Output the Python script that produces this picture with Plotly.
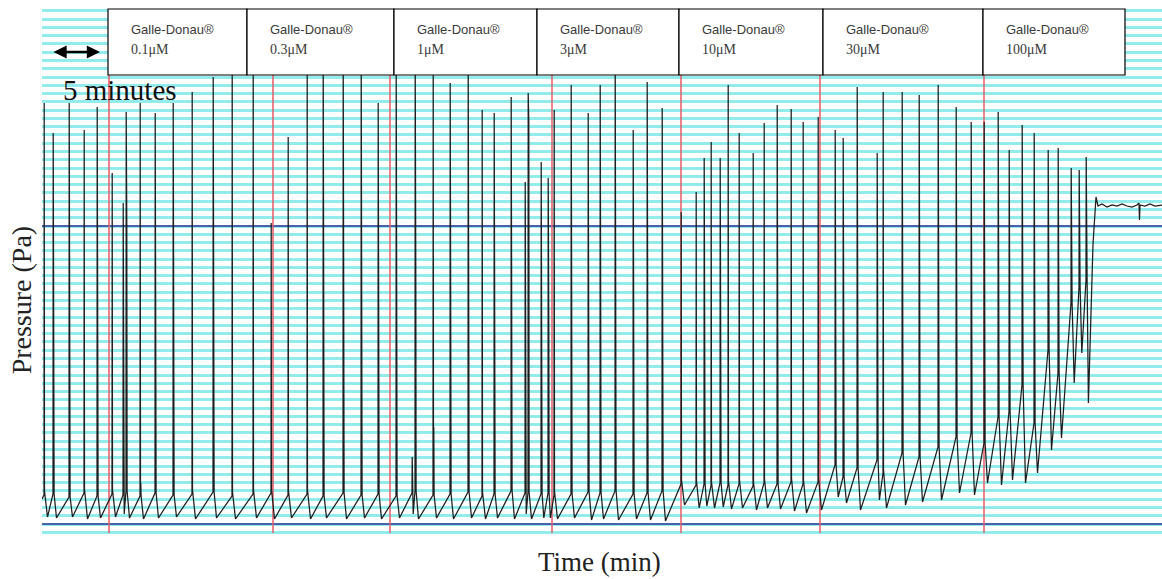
import plotly.graph_objects as go

# ---------------- data (time in minutes, pressure in arbitrary Pa units) ----------------
spike_t = [0.2, 1.1, 2.7, 4.2, 5.5, 7.0, 8.1, 8.4, 9.8, 11.3, 13.1, 15.0, 17.1, 19.0, 21.1,
           22.9, 24.6, 26.5, 28.1, 30.1, 31.9, 33.6, 35.4, 37.0, 37.3, 39.1, 40.8, 42.6, 44.0,
           45.2, 46.9, 48.3, 48.6, 49.9, 50.6, 51.2, 52.9, 54.6, 55.8, 57.3, 59.1, 60.5, 62.0,
           63.9, 65.4, 66.2, 66.9, 67.8, 68.6, 69.7, 71.1, 72.2, 73.5, 74.9, 76.1, 77.6, 79.3,
           80.1, 81.5, 83.5, 84.1, 86.0, 87.7, 89.6, 91.4, 92.9, 94.2, 95.6, 96.7, 98.0, 99.2,
           100.6, 101.6, 102.9, 103.7, 104.4]
spike_peak = [421, 391, 421, 394, 417, 351, 321, 412, 421, 411, 421, 432, 447, 470, 470,
              301, 387, 470, 470, 470, 470, 421, 470, 67, 470, 470, 441, 470, 414,
              411, 427, 342, 431, 362, 346, 414, 439, 411, 439, 470, 394, 442, 416,
              312, 332, 366, 382, 366, 439, 391, 371, 401, 419, 415, 402, 407, 394,
              386, 437, 371, 432, 432, 429, 439, 417, 402, 402, 412, 374, 399, 391,
              374, 376, 356, 354, 367]
spike_sub = [None, 86, 399, None, 89, None, None, 299, 41, 187, 384, None, 51, None, None,
             None, None, None, 159, 221, 99, 67, 136, None, 246, 97, 386, 82, None,
             146, 41, None, 402, 136, 197, None, 416, 244, 402, 359, 201, 376, 386,
             None, None, 102, None, 114, None, None, None, None, 286, None, None, None, 277,
             117, 361, 309, None, 99, 227, 357, 107, 92, 371, 144, 112, 139, 274,
             177, 354, 327, 307, 291]
spike_foot = [29, 30, 27, 31, 28, 30, 29, 33, 28, 31, 29, 30, 32, 28, 30,
              31, 29, 30, 28, 31, 29, 30, 28, 31, 33, 29, 30, 32, 28,
              30, 33, 31, 32, 30, 31, 29, 30, 32, 31, 33, 30, 31, 33,
              40, 39, 40, 38, 41, 39, 40, 38, 41, 40, 42, 40, 42, 59,
              47, 56, 64, 51, 71, 67, 77, 87, 91, 81, 107, 112, 139, 101,
              174, 151, 221, 237, 244]
trough_after = [7, 6, 7, 5, 6, 7, 10, 6, 5, 6, 7, 5, 6, 5, 6,
                5, 6, 5, 6, 5, 6, 5, 6, 10, 5, 6, 5, 6, 5,
                6, 5, 10, 5, 6, 6, 5, 6, 4, 5, 4, 5, 4, 3,
                19, 16, 18, 16, 17, 15, 16, 14, 16, 15, 13, 11, 14, 27,
                21, 14, 24, 16, 19, 22, 24, 31, 29, 41, 39, 44, 41, 51,
                74, 86, 141, 171, 121]
start_level = 25
plateau_t = [104.8, 105.1, 105.4, 105.6, 106.0, 106.5, 107.0, 107.5, 108.0, 108.5, 109.0,
             109.5, 109.7, 109.75, 109.8, 110.3, 110.8, 111.3, 112.0]
plateau_p = [180, 280, 327, 318, 320, 317, 319, 318, 320, 318, 317,
             319, 321, 304, 319, 318, 320, 318, 319]

additions_t = [6.7, 23.1, 34.8, 51.0, 63.9, 77.8, 94.2]
treatments = ["0.1μM", "0.3μM", "1μM", "3μM", "10μM", "30μM", "100μM"]
drug_name = "Galle-Donau®"
reference_levels = [0, 298]
grid_step = 298 / 36

# ---------------- build pressure trace from the spike events ----------------
xs, ys = [0.0], [start_level]
n = len(spike_t)
for i in range(n):
    t = spike_t[i]
    nxt = spike_t[i + 1] if i + 1 < n else t + 0.6
    gap = nxt - t
    xs += [t, t + 0.02, t + 0.05]
    ys += [spike_foot[i], spike_peak[i], spike_foot[i] + 4]
    if spike_sub[i] is not None:
        xs += [t + 0.08, t + 0.11]
        ys += [spike_sub[i], spike_foot[i]]
    xs.append(t + min(0.35, 0.4 * gap))
    ys.append(trough_after[i])
xs += plateau_t
ys += plateau_p

X_RANGE = [0, 112]
Y_RANGE = [-16, 516]

fig = go.Figure()

# blue reference lines
for lv in reference_levels:
    fig.add_trace(go.Scatter(x=X_RANGE, y=[lv, lv], mode="lines",
                             line=dict(color="#4a62ad", width=2), hoverinfo="skip",
                             showlegend=False))

# red drug-addition markers
rx, ry = [], []
for a in additions_t:
    rx += [a, a, None]
    ry += [-9, 449, None]
fig.add_trace(go.Scatter(x=rx, y=ry, mode="lines",
                         line=dict(color="rgba(232,92,104,0.95)", width=1.6),
                         hoverinfo="skip", showlegend=False))

# pressure recording
fig.add_trace(go.Scatter(x=xs, y=ys, mode="lines",
                         line=dict(color="#1e1e1e", width=1.25),
                         hoverinfo="skip", showlegend=False))

# ---------------- header boxes ----------------
box_edges = [6.6, 20.5, 35.2, 49.5, 63.7, 78.1, 94.1, 108.3]
shapes = []
annotations = []
for k in range(len(treatments)):
    x0, x1 = box_edges[k], box_edges[k + 1]
    shapes.append(dict(type="rect", xref="x", yref="y", x0=x0, x1=x1, y0=449, y1=515,
                       fillcolor="white", line=dict(color="black", width=1.2), layer="above"))
    annotations.append(dict(xref="x", yref="y", x=x0 + 2.1, y=495, text=drug_name,
                            showarrow=False, xanchor="left", yanchor="middle",
                            font=dict(family="Liberation Sans, Arial", size=13, color="#3a3a3a")))
    annotations.append(dict(xref="x", yref="y", x=x0 + 2.1, y=475, text=treatments[k],
                            showarrow=False, xanchor="left", yanchor="middle",
                            font=dict(family="Liberation Serif, Times New Roman", size=14, color="#3a3a3a")))

# scale bar
annotations.append(dict(xref="x", yref="y", axref="x", ayref="y", x=5.8, y=472, ax=1.0, ay=472,
                        text="", showarrow=True, arrowside="end+start", arrowhead=2,
                        arrowsize=1.1, arrowwidth=2.4, arrowcolor="black", standoff=0,
                        startstandoff=0, startarrowhead=2, startarrowsize=1.1))
annotations.append(dict(xref="x", yref="y", x=1.9, y=434, text="5 minutes", showarrow=False,
                        xanchor="left", yanchor="middle",
                        font=dict(family="Liberation Serif, Times New Roman", size=29, color="#111")))

# axis titles
annotations.append(dict(xref="paper", yref="paper", x=0.498, y=-0.042, text="Time (min)",
                        showarrow=False, xanchor="center", yanchor="middle",
                        font=dict(family="Liberation Serif, Times New Roman", size=27, color="#222")))
annotations.append(dict(xref="paper", yref="paper", x=-0.0185, y=0.451, text="Pressure (Pa)",
                        showarrow=False, xanchor="center", yanchor="middle", textangle=-90,
                        font=dict(family="Liberation Serif, Times New Roman", size=28, color="#222")))

fig.update_layout(
    width=1162, height=579,
    margin=dict(l=42, r=0, t=8, b=39),
    paper_bgcolor="white", plot_bgcolor="white",
    shapes=shapes, annotations=annotations,
    xaxis=dict(range=X_RANGE, showgrid=False, zeroline=False, showline=False,
               showticklabels=False, ticks=""),
    yaxis=dict(range=Y_RANGE, showgrid=True, gridcolor="#93ecec", gridwidth=3,
               tick0=0, dtick=grid_step, zeroline=False, showline=False,
               showticklabels=False, ticks=""),
    showlegend=False,
)

fig.write_html("out.html", config={"displayModeBar": False})

# remove the browser's default page margin so the figure sits at the window origin
with open("out.html", "r", encoding="utf-8") as fh:
    html = fh.read()
html = html.replace("<head>", "<head><style>html,body{margin:0;padding:0;overflow:hidden;}</style>", 1)
with open("out.html", "w", encoding="utf-8") as fh:
    fh.write(html)
